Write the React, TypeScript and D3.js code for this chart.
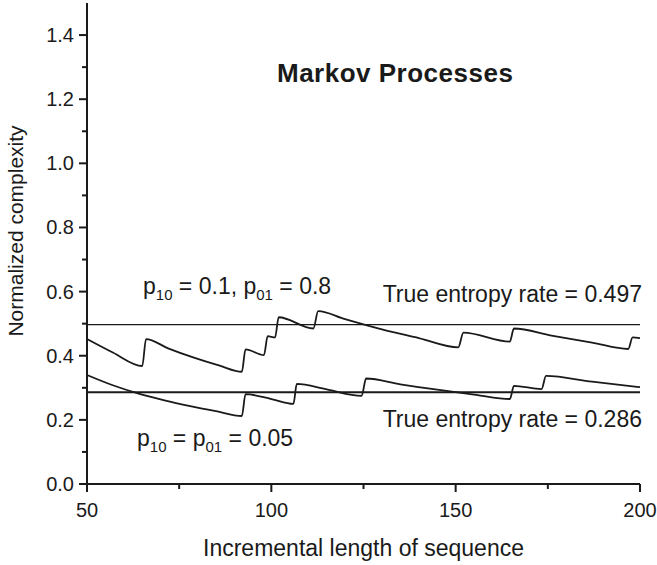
import React from "react";
import * as d3 from "d3";

const upperX = [50, 57, 65, 66, 72, 79, 86, 92, 93, 98, 99, 101, 102, 111.4, 112.7, 120, 130, 140, 150.7, 152.1, 164.7, 165.8, 176, 187, 196.8, 198, 200];
const upperY = [0.452, 0.41, 0.368, 0.452, 0.423, 0.394, 0.369, 0.35, 0.42, 0.402, 0.461, 0.457, 0.52, 0.485, 0.539, 0.514, 0.482, 0.455, 0.426, 0.472, 0.444, 0.485, 0.463, 0.441, 0.421, 0.457, 0.455];

const lowerX = [50, 57, 64, 71, 78, 85, 92, 93, 100, 106, 106.9, 115, 124.5, 125.7, 135, 145, 155, 164.7, 165.8, 173.3, 174.5, 187, 200];
const lowerY = [0.34, 0.308, 0.282, 0.261, 0.243, 0.227, 0.212, 0.28, 0.265, 0.25, 0.312, 0.295, 0.275, 0.329, 0.311, 0.294, 0.279, 0.265, 0.306, 0.296, 0.337, 0.319, 0.302];

const entropyRates = [0.497, 0.286];

const xMajor = [50, 100, 150, 200];
const xMinor = [75, 125, 175];
const yMajor = [0, 0.2, 0.4, 0.6, 0.8, 1.0, 1.2, 1.4];
const yMinor = [0.1, 0.3, 0.5, 0.7, 0.9, 1.1, 1.3];

const W = 657;
const H = 565;
const FONT = "'Liberation Sans', Arial, sans-serif";
const INK = "#1a1a1a";

export default function App() {
  const x = d3.scaleLinear().domain([50, 200]).range([87, 640]);
  const y = d3.scaleLinear().domain([0, 1.5]).range([484, 3]);

  const line = d3
    .line<[number, number]>()
    .x((d) => x(d[0]))
    .y((d) => y(d[1]))
    .curve(d3.curveMonotoneX);

  const upper = upperX.map((v, i) => [v, upperY[i]] as [number, number]);
  const lower = lowerX.map((v, i) => [v, lowerY[i]] as [number, number]);

  const x0 = x(50);
  const y0 = y(0);

  return (
    <svg
      width={W}
      height={H}
      style={{ position: "absolute", left: 0, top: 0, background: "#fff" }}
      fontFamily={FONT}
    >
      {/* entropy rate lines */}
      {entropyRates.map((r, i) => (
        <line
          key={r}
          x1={x(50)}
          x2={x(200)}
          y1={y(r)}
          y2={y(r)}
          stroke={INK}
          strokeWidth={i === 0 ? 1.4 : 2}
        />
      ))}

      <path d={line(upper) || ""} fill="none" stroke={INK} strokeWidth={1.8} />
      <path d={line(lower) || ""} fill="none" stroke={INK} strokeWidth={1.8} />

      {/* axes */}
      <line x1={x0} x2={x0} y1={y(1.5)} y2={y0} stroke={INK} strokeWidth={2} />
      <line x1={x0} x2={x(200)} y1={y0} y2={y0} stroke={INK} strokeWidth={2} />

      {yMajor.map((t) => (
        <g key={"ym" + t}>
          <line x1={x0 - 8} x2={x0} y1={y(t)} y2={y(t)} stroke={INK} strokeWidth={2} />
          <text x={x0 - 13} y={y(t)} dy="0.35em" textAnchor="end" fontSize={20} fill={INK}>
            {t.toFixed(1)}
          </text>
        </g>
      ))}
      {yMinor.map((t) => (
        <line key={"yn" + t} x1={x0 - 5} x2={x0} y1={y(t)} y2={y(t)} stroke={INK} strokeWidth={2} />
      ))}
      {xMajor.map((t) => (
        <g key={"xm" + t}>
          <line x1={x(t)} x2={x(t)} y1={y0} y2={y0 + 8} stroke={INK} strokeWidth={2} />
          <text x={x(t)} y={517} textAnchor="middle" fontSize={20} fill={INK}>
            {t}
          </text>
        </g>
      ))}
      {xMinor.map((t) => (
        <line key={"xn" + t} x1={x(t)} x2={x(t)} y1={y0} y2={y0 + 5} stroke={INK} strokeWidth={2} />
      ))}

      {/* axis titles */}
      <text x={(x(50) + x(200)) / 2} y={556} textAnchor="middle" fontSize={23} fill={INK}>
        Incremental length of sequence
      </text>
      <text
        transform="translate(23, 231) rotate(-90)"
        textAnchor="middle"
        fontSize={21}
        fill={INK}
      >
        Normalized complexity
      </text>

      {/* title */}
      <text x={277} y={82} fontSize={26} fontWeight="bold" letterSpacing={0.5} fill={INK}>
        Markov Processes
      </text>

      {/* annotations */}
      <text x={143} y={294} fontSize={23} fill={INK}>
        p<tspan fontSize={15} dy={6}>10</tspan>
        <tspan dy={-6}> = 0.1, p</tspan>
        <tspan fontSize={15} dy={6}>01</tspan>
        <tspan dy={-6}> = 0.8</tspan>
      </text>
      <text x={137} y={446} fontSize={23} fill={INK}>
        p<tspan fontSize={15} dy={6}>10</tspan>
        <tspan dy={-6}> = p</tspan>
        <tspan fontSize={15} dy={6}>01</tspan>
        <tspan dy={-6}> = 0.05</tspan>
      </text>
      <text x={642} y={302} textAnchor="end" fontSize={23} fill={INK}>
        True entropy rate = {entropyRates[0]}
      </text>
      <text x={642} y={427} textAnchor="end" fontSize={23} fill={INK}>
        True entropy rate = {entropyRates[1]}
      </text>
    </svg>
  );
}
